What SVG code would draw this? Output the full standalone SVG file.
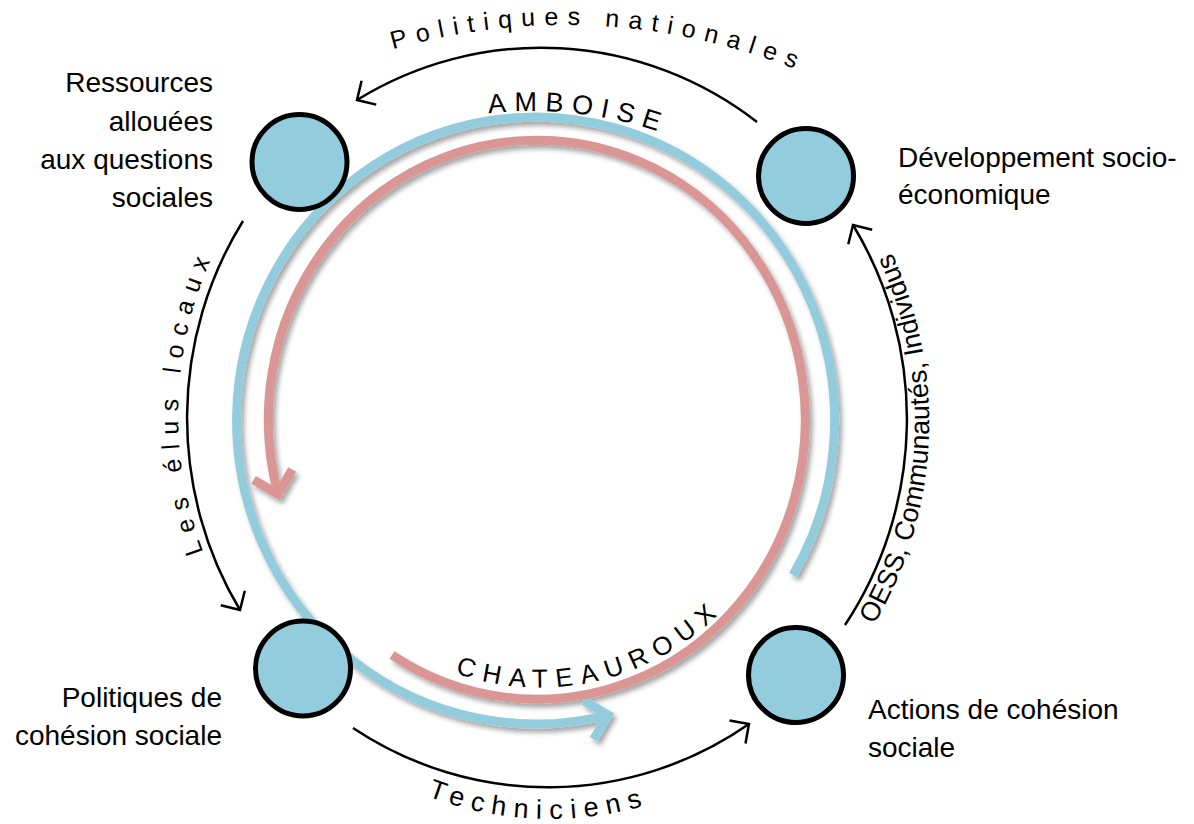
<svg xmlns="http://www.w3.org/2000/svg" width="1194" height="824" viewBox="0 0 1194 824">
<style>
  .lbl { font-family: "Liberation Sans", Arial, sans-serif; font-size: 28px; fill: #000; }
  .end { text-anchor: end; }
  .pt { font-family: "Liberation Sans", Arial, sans-serif; fill: #000; }
  .dot { fill: #93CDDD; stroke: #000; stroke-width: 5; }
  .conn { fill: none; stroke: #000; stroke-width: 2.5; marker-end: url(#ah); }
  .blue { fill: none; stroke: #93CDDD; stroke-width: 9; marker-end: url(#ahb); }
  .red { fill: none; stroke: #D99694; stroke-width: 9; marker-end: url(#ahr); }
</style>
<defs>
  <filter id="sh" x="-10%" y="-10%" width="130%" height="130%">
    <feDropShadow dx="3" dy="4" stdDeviation="2.5" flood-color="#000" flood-opacity="0.35"/>
  </filter>
  <marker id="ah" markerUnits="userSpaceOnUse" orient="auto" overflow="visible" markerWidth="1" markerHeight="1" refX="0" refY="0">
    <path d="M -14 -14 L 0 0 L -14 14" fill="none" stroke="#000" stroke-width="2.5"/>
  </marker>
  <marker id="ahb" markerUnits="userSpaceOnUse" orient="auto" overflow="visible" markerWidth="1" markerHeight="1" refX="0" refY="0">
    <path d="M -20 -20 L 0 0 L -20 20" fill="none" stroke="#93CDDD" stroke-width="9"/>
  </marker>
  <marker id="ahr" markerUnits="userSpaceOnUse" orient="auto" overflow="visible" markerWidth="1" markerHeight="1" refX="0" refY="0">
    <path d="M -20 -20 L 0 0 L -20 20" fill="none" stroke="#D99694" stroke-width="9"/>
  </marker>
  <path id="tp-pn" d="M 285.5 91.5 A 620 620 0 0 1 904.5 126.2"/>
  <path id="tp-amb" d="M 373.1 143.9 A 400 400 0 0 1 770.5 189.9"/>
  <path id="tp-cha" d="M 420.5 657.5 A 262 273 0 0 0 748 580.6"/>
  <path id="tp-elus" d="M 255.4 645.9 A 367 376 0 0 1 272.7 163.1"/>
  <path id="tp-oess" d="M 803 713.2 A 384 393 0 0 0 829.5 157.9"/>
  <path id="tp-tech" d="M 345.4 750.5 A 340 340 0 0 0 735.2 764.1"/>
</defs>

<g id="cycles" filter="url(#sh)">
  <path id="amboise-cycle" class="blue" d="M 793 575 A 299 303.5 0 1 0 608 715"/>
  <path id="chateauroux-cycle" class="red" d="M 392 655 A 268.5 279.5 0 1 0 278 494"/>
</g>

<g id="connectors">
  <path class="conn" d="M 757 122 A 358 367 0 0 0 357 100"/>
  <path class="conn" d="M 243 221 A 358 367 0 0 0 240 610"/>
  <path class="conn" d="M 353 728 A 358 367 0 0 0 749 724"/>
  <path class="conn" d="M 845 625 A 358 367 0 0 0 853 225"/>
</g>

<g id="path-labels">
  <text class="pt" font-size="25" letter-spacing="9"><textPath href="#tp-pn" startOffset="50%" text-anchor="middle">Politiques nationales</textPath></text>
  <text class="pt" font-size="27" letter-spacing="8"><textPath href="#tp-amb" startOffset="50%" text-anchor="middle">AMBOISE</textPath></text>
  <text class="pt" font-size="26" letter-spacing="8.5"><textPath href="#tp-cha" startOffset="50%" text-anchor="middle">CHATEAUROUX</textPath></text>
  <text class="pt" font-size="25" letter-spacing="9"><textPath href="#tp-elus" startOffset="50%" text-anchor="middle">Les élus locaux</textPath></text>
  <text class="pt" font-size="27"><textPath href="#tp-oess" startOffset="50%" text-anchor="middle">OESS, Communautés, Individus</textPath></text>
  <text class="pt" font-size="27" letter-spacing="7.8"><textPath href="#tp-tech" startOffset="50%" text-anchor="middle">Techniciens</textPath></text>
</g>

<g id="node-ressources">
  <circle class="dot" cx="299.5" cy="162" r="47.5"/>
  <text class="lbl end" x="213" y="92">Ressources</text>
  <text class="lbl end" x="213" y="131">allouées</text>
  <text class="lbl end" x="213" y="169">aux questions</text>
  <text class="lbl end" x="213" y="207">sociales</text>
</g>

<g id="node-developpement">
  <circle class="dot" cx="806" cy="176" r="47.5"/>
  <text class="lbl" x="898" y="167">Développement socio-</text>
  <text class="lbl" x="898" y="204">économique</text>
</g>

<g id="node-politiques">
  <circle class="dot" cx="303" cy="668.5" r="47.5"/>
  <text class="lbl end" x="222" y="707">Politiques de</text>
  <text class="lbl end" x="222" y="745">cohésion sociale</text>
</g>

<g id="node-actions">
  <circle class="dot" cx="796" cy="675" r="47.5"/>
  <text class="lbl" x="868" y="719">Actions de cohésion</text>
  <text class="lbl" x="868" y="757">sociale</text>
</g>
</svg>
